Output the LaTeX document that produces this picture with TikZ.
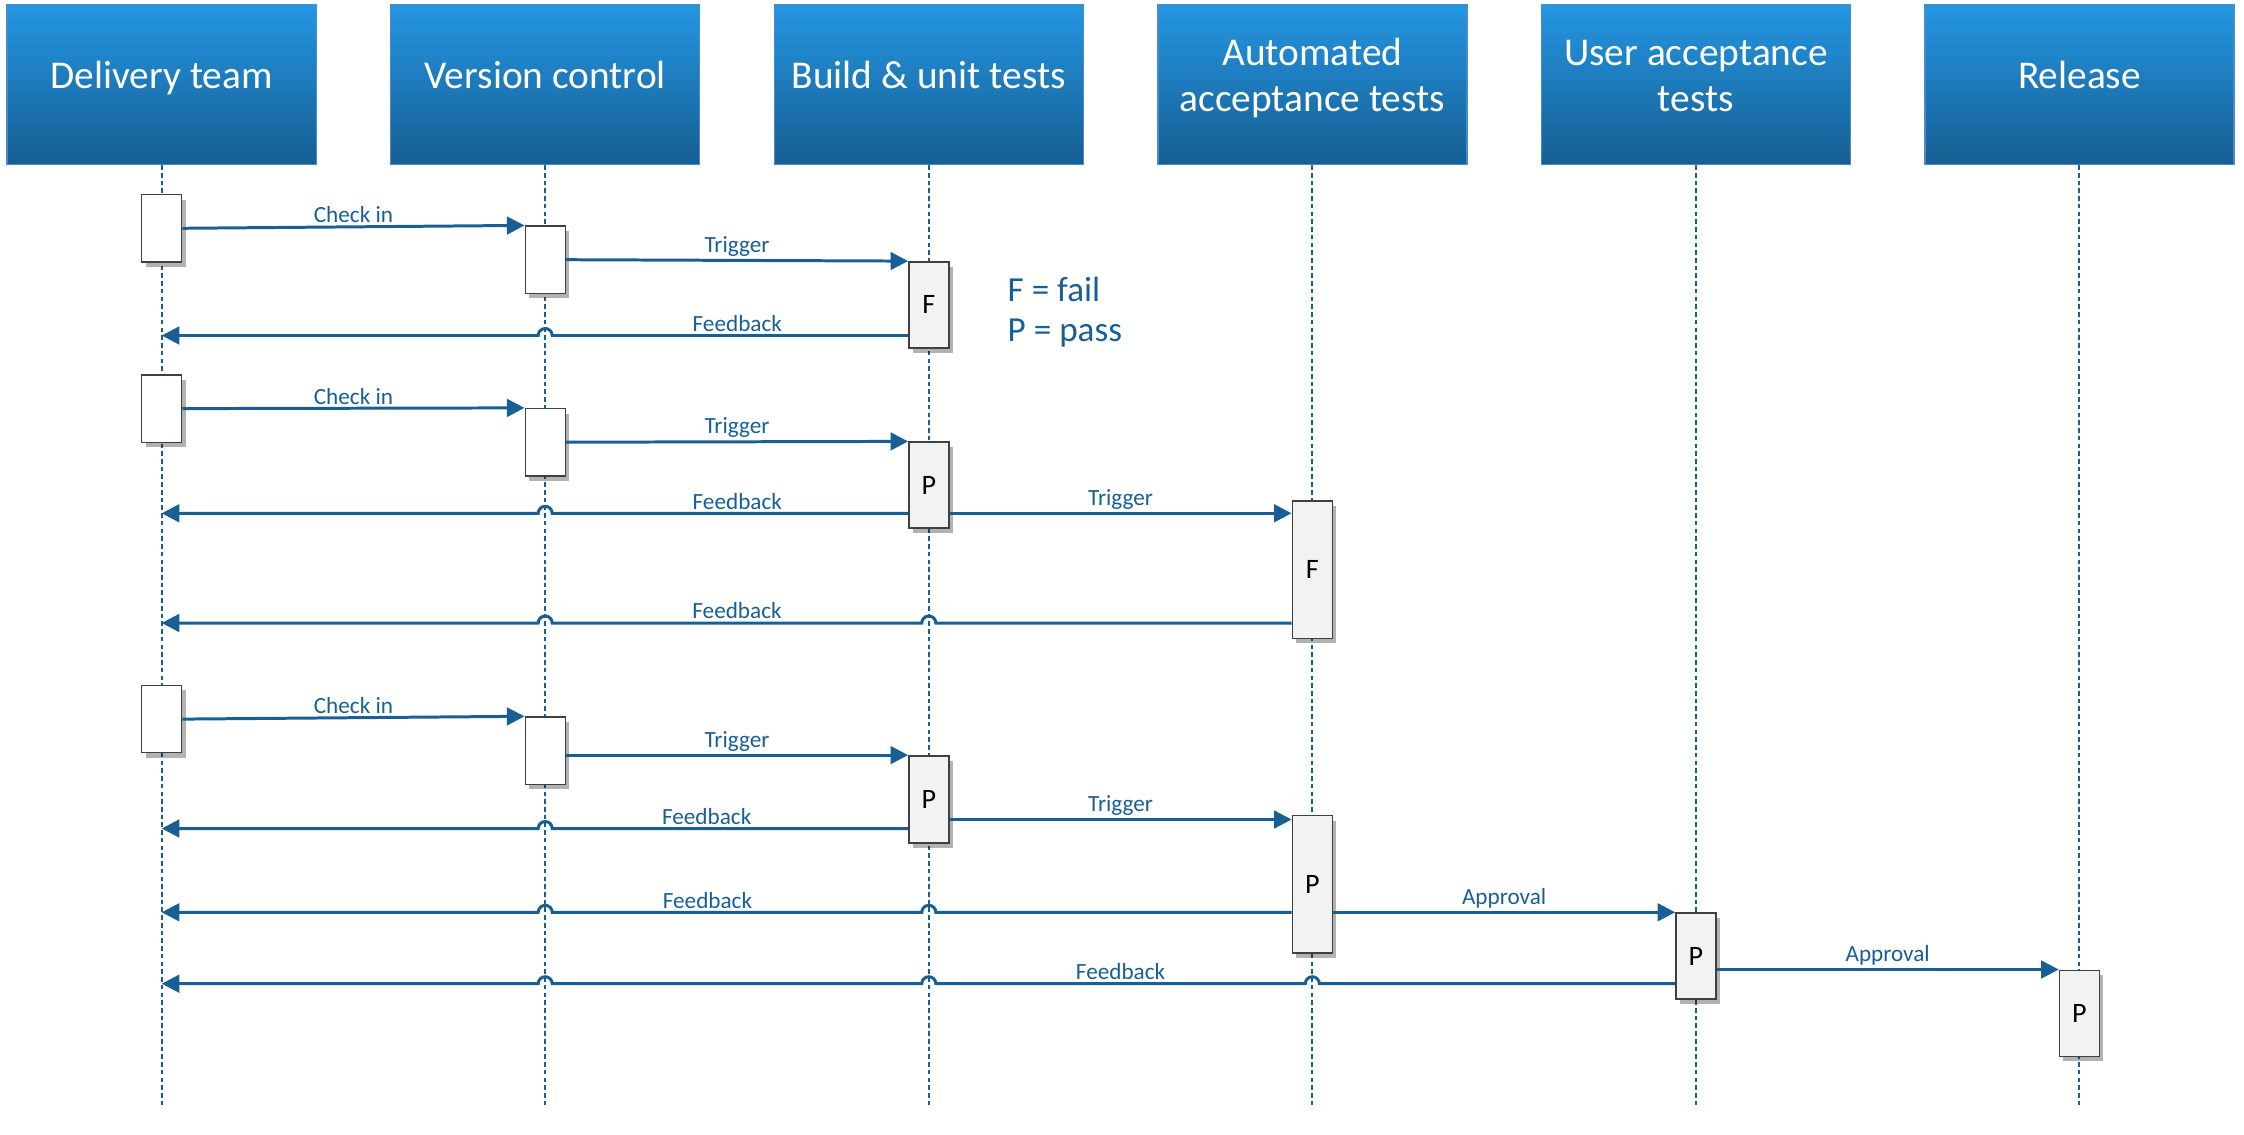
\documentclass[tikz,border=0pt]{standalone}
\usepackage{fontspec}
\setmainfont{Carlito}
\usetikzlibrary{arrows.meta, shadows}
\definecolor{lineblue}{RGB}{24,96,148}
\definecolor{hdtop}{RGB}{36,150,226}
\definecolor{hdbot}{RGB}{22,94,146}
\definecolor{hdedge}{RGB}{70,140,200}
\definecolor{boxgray}{RGB}{242,242,242}
\newcommand{\headhi}{\rule{0pt}{0.8em}}
\newcommand{\headlo}{\rule[-0.6em]{0pt}{0.6em}}

\begin{document}
\begin{tikzpicture}[
  head/.style={rectangle, draw=hdedge, line width=0.4pt, top color=hdtop, bottom color=hdbot, text=white, minimum width=3.09cm, minimum height=1.60cm, align=center, font=\fontsize{11.2}{13}\selectfont},
  lifeline/.style={lineblue, line width=0.55pt, dash pattern=on 1.3pt off 0.9pt},
  actbox/.style={rectangle, draw=black!75, line width=0.4pt, fill=white, minimum width=0.40cm, inner sep=0pt, font=\fontsize{8}{9}\selectfont, drop shadow={shadow xshift=0.04cm, shadow yshift=-0.05cm, opacity=0.3, fill=black}},
  result/.style={actbox, fill=boxgray},
  msg/.style={lineblue, line width=0.85pt, -{Triangle[length=5pt, width=5pt]}},
  lbl/.style={above, inner sep=0.7pt, text=lineblue, font=\fontsize{6.6}{8}\selectfont}
]
\useasboundingbox (0,0) rectangle (22.44,-11.35);

\node[head] (team) at (1.617,-0.845) {\headhi Delivery team\headlo};
\node[head] (vcs) at (5.452,-0.845) {\headhi Version control\headlo};
\node[head] (build) at (9.288,-0.845) {\headhi Build \& unit tests\headlo};
\node[head] (aat) at (13.123,-0.845) {\headhi Automated\\acceptance tests\headlo};
\node[head] (uat) at (16.959,-0.845) {\headhi User acceptance\\tests\headlo};
\node[head] (rel) at (20.794,-0.845) {\headhi Release\headlo};

\coordinate (teamend) at (1.617,-11.08);
\coordinate (vcsend) at (5.452,-11.08);
\coordinate (buildend) at (9.288,-11.08);
\coordinate (aatend) at (13.123,-11.08);
\coordinate (uatend) at (16.959,-11.08);
\coordinate (relend) at (20.794,-11.08);
\draw[lifeline] (team.south) -- (teamend);
\draw[lifeline] (vcs.south) -- (vcsend);
\draw[lifeline] (build.south) -- (buildend);
\draw[lifeline] (aat.south) -- (aatend);
\draw[lifeline] (uat.south) -- (uatend);
\draw[lifeline] (rel.south) -- (relend);

\node[actbox, minimum height=0.673cm] (d1) at (1.617,-2.283) {};
\node[actbox, minimum height=0.673cm] (d2) at (1.617,-4.086) {};
\node[actbox, minimum height=0.673cm] (d3) at (1.617,-7.191) {};
\node[actbox, minimum height=0.672cm] (v1) at (5.452,-2.597) {};
\node[actbox, minimum height=0.672cm] (v2) at (5.452,-4.422) {};
\node[actbox, minimum height=0.672cm] (v3) at (5.452,-7.506) {};
\node[result, minimum height=0.86cm] (b1) at (9.288,-3.048) {F};
\node[result, minimum height=0.86cm] (b2) at (9.288,-4.851) {P};
\node[result, minimum height=0.87cm] (b3) at (9.288,-7.993) {P};
\node[result, minimum height=1.374cm] (a1) at (13.123,-5.696) {F};
\node[result, minimum height=1.374cm] (a2) at (13.123,-8.844) {P};
\node[result, minimum height=0.86cm] (u1) at (16.959,-9.560) {P};
\node[result, minimum height=0.86cm] (r1) at (20.794,-10.132) {P};

\node[anchor=west, align=left, inner sep=0pt, text=lineblue, font=\fontsize{10}{11.4}\selectfont] (key) at (10.07,-3.12) {F = fail\\P = pass};

\draw[msg] (d1.east) -- node[lbl]{Check in} (v1.north west);
\draw[msg] (v1.east) -- node[lbl]{Trigger} (b1.north west);
\coordinate (fb1) at ([yshift=0.13cm]b1.south west);
\draw[msg] (fb1) -- node[lbl, pos=0.48]{Feedback} ([xshift=0.07cm]vcs |- fb1) arc[start angle=0, end angle=180, radius=0.07cm] -- (team |- fb1);

\draw[msg] (d2.east) -- node[lbl]{Check in} (v2.north west);
\draw[msg] (v2.east) -- node[lbl]{Trigger} (b2.north west);
\coordinate (fb2) at ([yshift=0.155cm]b2.south west);
\draw[msg] (fb2) -- node[lbl, pos=0.48]{Feedback} ([xshift=0.07cm]vcs |- fb2) arc[start angle=0, end angle=180, radius=0.07cm] -- (team |- fb2);
\draw[msg] (b2.east |- fb2) -- node[lbl]{Trigger} (a1.west |- fb2);
\coordinate (fb3) at ([yshift=0.16cm]a1.south west);
\draw[msg] (fb3) -- ([xshift=0.07cm]build |- fb3) arc[start angle=0, end angle=180, radius=0.07cm] -- node[lbl]{Feedback} ([xshift=0.07cm]vcs |- fb3) arc[start angle=0, end angle=180, radius=0.07cm] -- (team |- fb3);

\draw[msg] (d3.east) -- node[lbl]{Check in} (v3.north west);
\draw[msg] (v3.east |- b3.north west) -- node[lbl]{Trigger} (b3.north west);
\coordinate (fb4) at ([yshift=0.15cm]b3.south west);
\draw[msg] (fb4) -- node[lbl, pos=0.566]{Feedback} ([xshift=0.07cm]vcs |- fb4) arc[start angle=0, end angle=180, radius=0.07cm] -- (team |- fb4);
\coordinate (tr5) at ([yshift=-0.045cm]a2.north west);
\draw[msg] (b3.east |- tr5) -- node[lbl]{Trigger} (tr5);
\draw[msg] (a2.west |- u1.north west) -- ([xshift=0.07cm]build |- u1.north west) arc[start angle=0, end angle=180, radius=0.07cm] -- node[lbl, pos=0.58]{Feedback} ([xshift=0.07cm]vcs |- u1.north west) arc[start angle=0, end angle=180, radius=0.07cm] -- (team |- u1.north west);
\draw[msg] (a2.east |- u1.north west) -- node[lbl]{Approval} (u1.north west);
\coordinate (fb6) at ([yshift=0.16cm]u1.south west);
\draw[msg] (fb6) -- ([xshift=0.07cm]aat |- fb6) arc[start angle=0, end angle=180, radius=0.07cm] -- node[lbl]{Feedback} ([xshift=0.07cm]build |- fb6) arc[start angle=0, end angle=180, radius=0.07cm] -- ([xshift=0.07cm]vcs |- fb6) arc[start angle=0, end angle=180, radius=0.07cm] -- (team |- fb6);
\draw[msg] (u1.east |- r1.north west) -- node[lbl]{Approval} (r1.north west);
\end{tikzpicture}
\end{document}
